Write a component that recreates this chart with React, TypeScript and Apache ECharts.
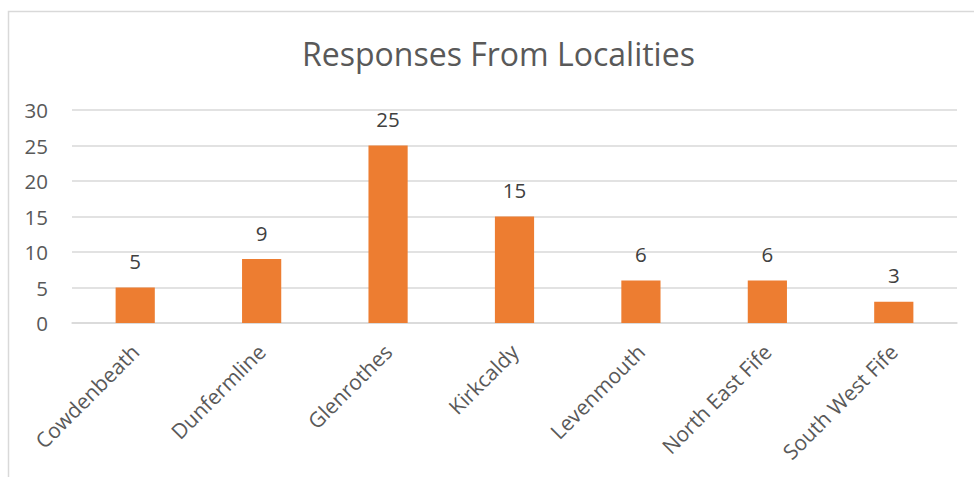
import React, { useEffect, useRef } from "react";
import * as echarts from "echarts";

const categories = ["Cowdenbeath", "Dunfermline", "Glenrothes", "Kirkcaldy", "Levenmouth", "North East Fife", "South West Fife"];
const responses = [5, 9, 25, 15, 6, 6, 3];
const titleText = "Responses From Localities";

export default function App() {
  const ref = useRef<HTMLDivElement>(null);
  useEffect(() => {
    if (!ref.current) return;
    const chart = echarts.init(ref.current, null, { renderer: "svg" });
    const font = "'Open Sans', sans-serif";
    chart.setOption({
      animation: false,
      backgroundColor: "#ffffff",
      title: {
        text: titleText,
        left: 297,
        top: 32,
        textStyle: { fontFamily: font, fontSize: 32, fontWeight: "normal", color: "#595959" },
      },
      graphic: [
        {
          type: "rect",
          shape: { x: 8.5, y: 11.5, width: 1100, height: 1000 },
          style: { fill: "none", stroke: "#d9d9d9", lineWidth: 1.5 },
          silent: true,
          z: -1,
        },
      ],
      grid: { left: 72, right: 17, top: 110, bottom: 154 },
      xAxis: {
        type: "category",
        data: categories,
        axisLine: { show: true, lineStyle: { color: "#d9d9d9", width: 1.5 } },
        axisTick: { show: false },
        axisLabel: {
          rotate: 45,
          interval: 0,
          margin: 25,
          fontFamily: font,
          fontSize: 21,
          color: "#595959",
        },
      },
      yAxis: {
        type: "value",
        min: 0,
        max: 30,
        interval: 5,
        axisLine: { show: false },
        axisTick: { show: false },
        splitLine: { lineStyle: { color: "#d9d9d9", width: 1.5 } },
        axisLabel: { margin: 24, fontFamily: font, fontSize: 20.5, color: "#595959" },
      },
      series: [
        {
          type: "bar",
          data: responses,
          barWidth: "31%",
          itemStyle: { color: "#ED7D31" },
          label: {
            show: true,
            position: "top",
            distance: 16,
            fontFamily: font,
            fontSize: 20.5,
            color: "#404040",
          },
        },
      ],
    });
    return () => chart.dispose();
  }, []);
  return <div ref={ref} style={{ position: "fixed", left: 0, top: 0, width: 974, height: 477 }} />;
}
